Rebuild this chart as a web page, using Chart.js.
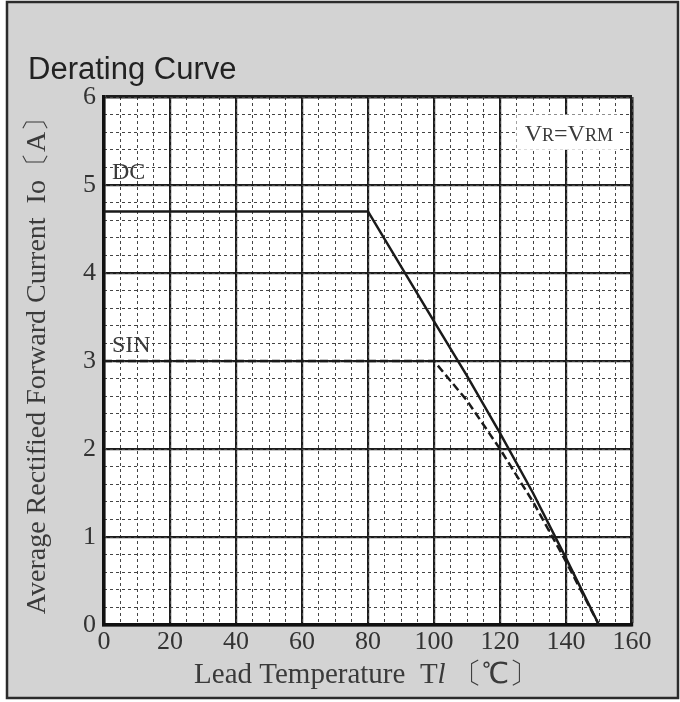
<!DOCTYPE html>
<html lang="en">
<head>
<meta charset="UTF-8">
<title>Derating Curve</title>
<script src="https://cdn.jsdelivr.net/npm/chart.js"></script>
<style>
  body { margin: 0; background: #fff; }
</style>
</head>
<body>
<canvas id="derating" width="680" height="702"></canvas>
<script>
// values
const dcTemp = [0, 80, 100, 110, 120, 130, 140, 150];
const dcCurrent = [4.7, 4.7, 3.45, 2.83, 2.18, 1.5, 0.76, 0];
const sinTemp = [0, 100, 110, 120, 130, 140, 150];
const sinCurrent = [3.0, 3.0, 2.55, 2.0, 1.4, 0.72, 0];
const xTicks = [0, 20, 40, 60, 80, 100, 120, 140, 160];
const yTicks = [0, 1, 2, 3, 4, 5, 6];

const serif = '"Liberation Serif", "Times New Roman", serif';

const toPoints = (xs, ys) => xs.map((x, i) => ({ x: x, y: ys[i] }));

// grey panel, frame and all the free text
const sheet = {
  id: 'sheet',
  beforeDraw(chart) {
    const { ctx, chartArea: a } = chart;
    ctx.save();
    ctx.fillStyle = '#fff';
    ctx.fillRect(0, 0, chart.width, chart.height);
    ctx.fillStyle = '#d3d3d3';
    ctx.fillRect(7, 2, 671, 696);
    ctx.strokeStyle = '#2b2b2b';
    ctx.lineWidth = 2.5;
    ctx.strokeRect(7, 2, 671, 696);
    ctx.fillStyle = '#fff';
    ctx.fillRect(a.left, a.top, a.right - a.left, a.bottom - a.top);
    ctx.restore();
  },
  afterDraw(chart) {
    const { ctx } = chart;
    const xs = chart.scales.x, ys = chart.scales.y;
    ctx.save();

    ctx.fillStyle = '#222';
    ctx.font = '31px "Liberation Sans", Arial, sans-serif';
    ctx.textAlign = 'left';
    ctx.textBaseline = 'alphabetic';
    ctx.fillText('Derating Curve', 28, 79);

    ctx.fillStyle = '#3a3a3a';
    // y axis title
    ctx.save();
    ctx.translate(38, 359);
    ctx.rotate(-Math.PI / 2);
    ctx.textAlign = 'center';
    ctx.textBaseline = 'middle';
    ctx.font = '28px ' + serif;
    ctx.fillText('Average Rectified Forward Current  Io〔A〕', 0, 0);
    ctx.restore();

    // x axis title with italic l
    const parts = [
      ['Lead Temperature  T', '29px ' + serif],
      ['l', 'italic 29px ' + serif],
      [' 〔℃〕', '29px ' + serif]
    ];
    let total = 0;
    parts.forEach(p => { ctx.font = p[1]; total += ctx.measureText(p[0]).width; });
    let px = 366 - total / 2;
    ctx.textAlign = 'left';
    ctx.textBaseline = 'alphabetic';
    parts.forEach(p => {
      ctx.font = p[1];
      ctx.fillText(p[0], px, 683);
      px += ctx.measureText(p[0]).width;
    });

    // curve labels
    ctx.font = '24px ' + serif;
    ctx.textBaseline = 'middle';
    ctx.fillText('DC', xs.getPixelForValue(2.4), ys.getPixelForValue(5.14));
    ctx.fillText('SIN', xs.getPixelForValue(2.4), ys.getPixelForValue(3.17));

    // condition box
    const bx = xs.getPixelForValue(125), by = ys.getPixelForValue(5.8);
    ctx.fillStyle = '#fff';
    ctx.fillRect(bx, by, xs.getPixelForValue(156) - bx, ys.getPixelForValue(5.4) - by);
    ctx.fillStyle = '#3a3a3a';
    ctx.textBaseline = 'alphabetic';
    const base = ys.getPixelForValue(5.6) + 9;
    let vx = xs.getPixelForValue(127.5);
    [['V', 24], ['R', 18], ['=', 24], ['V', 24], ['RM', 18]].forEach(p => {
      ctx.font = p[1] + 'px ' + serif;
      ctx.fillText(p[0], vx, base);
      vx += ctx.measureText(p[0]).width;
    });

    ctx.restore();
  }
};

const tickFont = { family: serif, size: 26 };

new Chart(document.getElementById('derating').getContext('2d'), {
  type: 'line',
  data: {
    datasets: [
      {
        label: 'DC',
        data: toPoints(dcTemp, dcCurrent),
        borderColor: '#1a1a1a',
        borderWidth: 2.5,
        pointRadius: 0,
        tension: 0
      },
      {
        label: 'SIN',
        data: toPoints(sinTemp, sinCurrent),
        borderColor: '#1a1a1a',
        borderWidth: 2.5,
        borderDash: [8, 4],
        pointRadius: 0,
        tension: 0
      }
    ]
  },
  options: {
    responsive: false,
    animation: false,
    layout: { padding: { left: 0, top: 97, right: 48, bottom: 0 } },
    plugins: {
      legend: { display: false },
      tooltip: { enabled: false }
    },
    scales: {
      x: {
        type: 'linear',
        min: 0,
        max: 160,
        afterBuildTicks: s => { s.ticks = xTicks.map(v => ({ value: v })); },
        afterFit: s => { s.height = 77; },
        grid: {
          color: '#1c1c1c',
          lineWidth: c => (c.tick && c.tick.value === 160) ? 3.5 : 2.2,
          drawTicks: false
        },
        border: { color: '#111', width: 3.5 },
        ticks: { font: tickFont, color: '#333', padding: 2, maxRotation: 0, autoSkip: false }
      },
      xMinor: {
        type: 'linear',
        position: 'bottom',
        min: 0,
        max: 160,
        afterFit: s => { s.height = 0; },
        grid: { color: '#444', lineWidth: 1, drawTicks: false, z: -1 },
        border: { display: false, dash: [3, 3] },
        ticks: { display: false, stepSize: 5 }
      },
      y: {
        type: 'linear',
        min: 0,
        max: 6,
        afterBuildTicks: s => { s.ticks = yTicks.map(v => ({ value: v })); },
        afterFit: s => { s.width = 104; },
        grid: {
          color: '#1c1c1c',
          lineWidth: c => (c.tick && c.tick.value === 6) ? 3.5 : 2.2,
          drawTicks: false
        },
        border: { color: '#111', width: 3.5 },
        ticks: { font: tickFont, color: '#333', padding: 8 }
      },
      yMinor: {
        type: 'linear',
        position: 'left',
        min: 0,
        max: 6,
        afterFit: s => { s.width = 0; },
        grid: { color: '#444', lineWidth: 1, drawTicks: false, z: -1 },
        border: { display: false, dash: [3, 3] },
        ticks: { display: false, stepSize: 0.2 }
      }
    }
  },
  plugins: [sheet]
});
</script>
</body>
</html>
